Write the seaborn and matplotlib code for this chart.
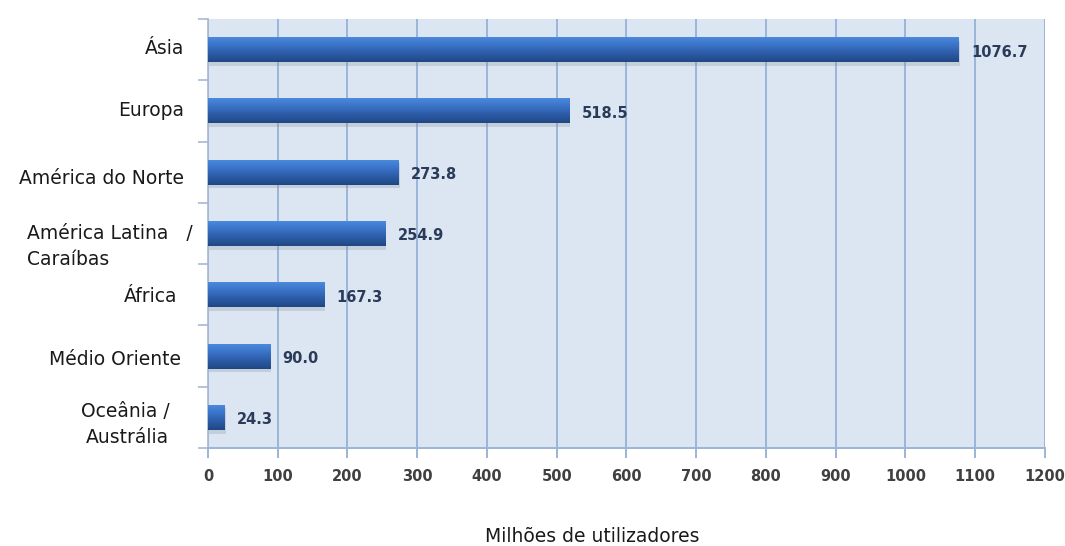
import numpy as np
import pandas as pd
import seaborn as sns
import matplotlib.pyplot as plt
from matplotlib.colors import LinearSegmentedColormap
from matplotlib.patches import Rectangle
from matplotlib.transforms import ScaledTranslation

# Internet users by world region (millions)
regions = ["Ásia", "Europa", "América do Norte", "América Latina   /\nCaraíbas",
           "África", "Médio Oriente", "Oceânia /\nAustrália"]
users = [1076.7, 518.5, 273.8, 254.9, 167.3, 90.0, 24.3]
value_labels = ["1076.7", "518.5", "273.8", "254.9", "167.3", "90.0", "24.3"]
x_ticks = list(range(0, 1201, 100))

sns.set_theme(style="white")
plt.rcParams["font.family"] = ["DejaVu Sans"]

fig = plt.figure(figsize=(10.65, 5.46), dpi=100)
ax = fig.add_axes([0.1953, 0.1795, 0.7859, 0.7857])

df = pd.DataFrame({"region": regions, "users": users})
sns.barplot(data=df, x="users", y="region", orient="h", width=0.41,
            color="#2f62b0", ax=ax, zorder=3, saturation=1)

bg = "#dce6f2"
grid_c = "#9bb5d9"
ax.set_facecolor(bg)

# vertical gradient fill for each bar, with a soft shadow beneath
grad = LinearSegmentedColormap.from_list(
    "bar", ["#4c8ce0", "#3b74c8", "#2d5ca8", "#1f4783"])
gimg = np.linspace(0, 1, 64).reshape(-1, 1)
for p in list(ax.patches):
    x0, y0 = p.get_x(), p.get_y()
    w, h = p.get_width(), p.get_height()
    shadow = Rectangle((x0 + 1, y0 + 0.06), w, h, facecolor="#7f8a99",
                       alpha=0.25, edgecolor="none", zorder=2)
    ax.add_patch(shadow)
    im = ax.imshow(gimg, cmap=grad, aspect="auto", extent=(x0, x0 + w, y0 + h, y0),
                   origin="upper", zorder=3.5, interpolation="bilinear")
    im.set_clip_path(p)
    p.set_facecolor("none")
    p.set_edgecolor("none")
ax.set_xlim(0, 1200)
ax.set_ylim(6.5, -0.5)

for i, (v, lab) in enumerate(zip(users, value_labels)):
    ax.text(v + 17, i + 0.04, lab, va="center", ha="left", fontsize=10.5,
            fontweight="bold", color="#2a3b5a", zorder=5)

# grid and axes styling
ax.set_xticks(x_ticks)
ax.set_xticklabels([str(t) for t in x_ticks], fontweight="bold", fontsize=10.5,
                   color="#404040")
ax.grid(axis="x", color=grid_c, linewidth=1.4, zorder=1)
ax.grid(axis="y", visible=False)
ax.set_axisbelow(True)
ax.tick_params(axis="x", length=7, color=grid_c, width=1.4, pad=8, bottom=True)

ax.set_yticks(range(len(regions)))
ax.set_yticklabels(regions, fontsize=13.5, color="#1a1a1a")
ax.set_yticks(np.arange(-0.5, len(regions), 1.0), minor=True)
ax.tick_params(axis="y", which="major", length=0, pad=17)
ax.tick_params(axis="y", which="minor", length=7, color="#a7b9d3", width=1.2, left=True)

# per-label offsets in pixels (dx, dy) and line alignment
offsets = [(0, 3), (0, 2), (0, -4), (8, -8), (-7, 0), (-3, -1), (-15, -2)]
aligns = ["right", "right", "right", "left", "right", "right", "right"]
for t, (dx, dy), al in zip(ax.get_yticklabels(), offsets, aligns):
    t.set_multialignment(al)
    t.set_linespacing(1.45)
    t.set_transform(t.get_transform() + ScaledTranslation(dx / 100, dy / 100, fig.dpi_scale_trans))

for side in ["top", "right"]:
    ax.spines[side].set_visible(False)
ax.spines["left"].set_color("#a7b9d3")
ax.spines["left"].set_linewidth(1.2)
ax.spines["bottom"].set_color(grid_c)
ax.spines["bottom"].set_linewidth(1.4)

ax.set_xlabel("")
ax.set_ylabel("")
fig.text(592 / 1065, 1 - 537 / 546, "Milhões de utilizadores", ha="center",
         va="center", fontsize=13.5, color="#1a1a1a")

fig.savefig("out.png", dpi=100, facecolor="white")
